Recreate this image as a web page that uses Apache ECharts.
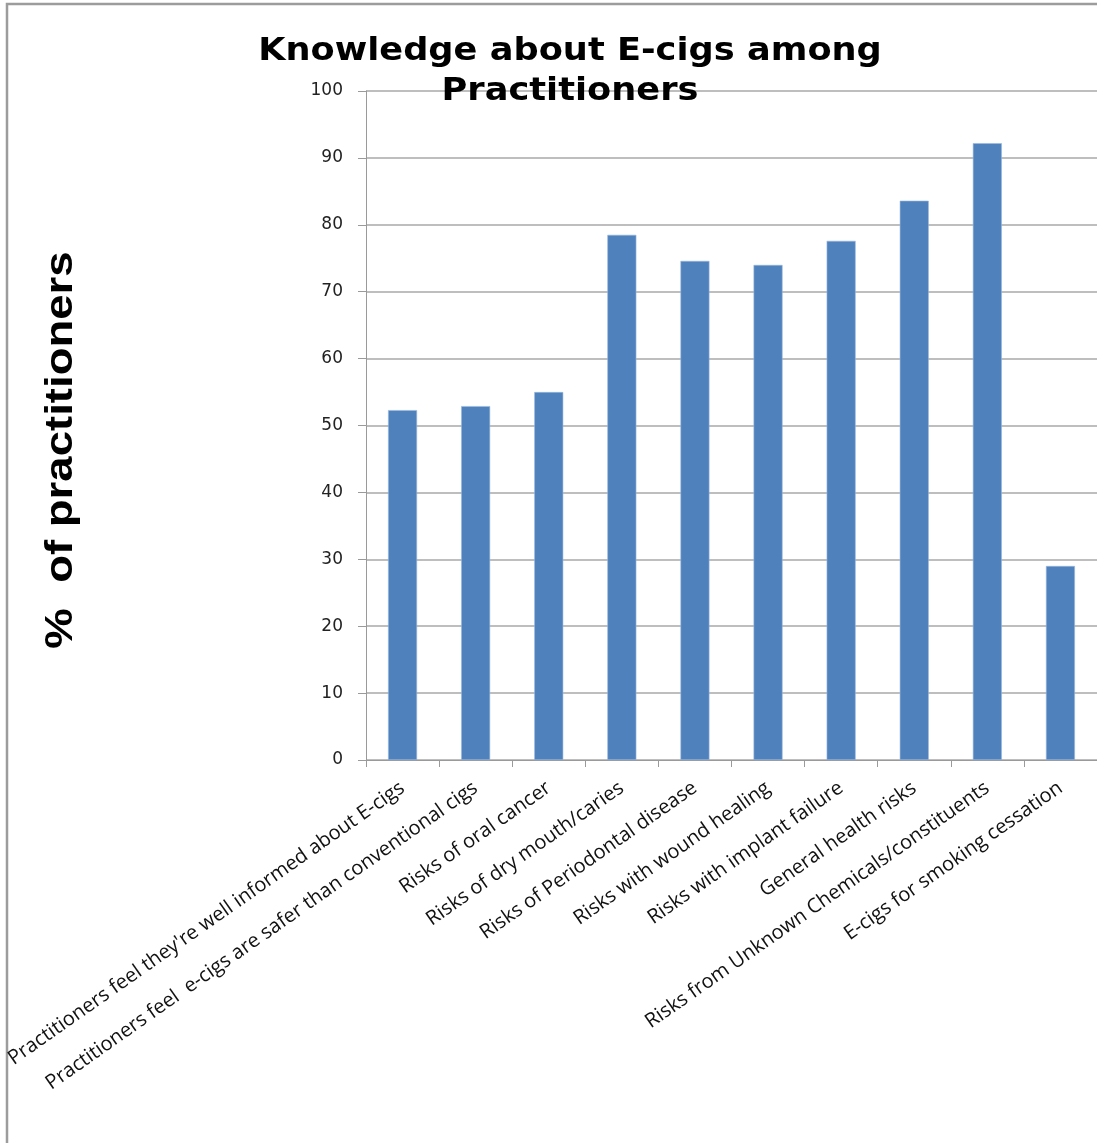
<!DOCTYPE html>
<html>
<head>
<meta charset="utf-8">
<script src="https://cdn.jsdelivr.net/npm/echarts@6/dist/echarts.min.js"></script>
<style>
  html, body { margin: 0; padding: 0; background: #fff; }
  #chart { width: 1097px; height: 1143px; }
</style>
</head>
<body>
<div id="chart"></div>
<script>
// Survey items and share of practitioners (%)
const categories = [
  "Practitioners feel they're well informed about E-cigs",
  "Practitioners feel  e-cigs are safer than conventional cigs",
  "Risks of oral cancer",
  "Risks of dry mouth/caries",
  "Risks of Periodontal disease",
  "Risks with wound healing",
  "Risks with implant failure",
  "General health risks",
  "Risks from Unknown Chemicals/constituents",
  "E-cigs for smoking cessation"
];
const percentValues = [52.3, 52.9, 55.0, 78.5, 74.6, 74.0, 77.6, 83.6, 92.2, 29.0];
const yTicks = { min: 0, max: 100, interval: 10 };
const titleLines = ["Knowledge about E-cigs among", "Practitioners"];
const yAxisTitle = "%  of practitioners";

const chart = echarts.init(document.getElementById('chart'), null, { renderer: 'canvas' });

chart.setOption({
  animation: false,
  backgroundColor: '#ffffff',
  grid: { left: 366, top: 91, width: 736, height: 669, containLabel: false },
  xAxis: {
    type: 'category',
    data: categories,
    axisLine: { lineStyle: { color: '#9a9a9a', width: 1 } },
    axisTick: { show: true, length: 7, lineStyle: { color: '#9a9a9a' } },
    axisLabel: {
      interval: 0,
      rotate: 35,
      margin: 26,
      fontFamily: 'Open Sans',
      fontSize: 20,
      color: '#111'
    }
  },
  yAxis: {
    type: 'value',
    min: yTicks.min,
    max: yTicks.max,
    interval: yTicks.interval,
    axisLine: { show: true, lineStyle: { color: '#9a9a9a', width: 1 } },
    axisTick: { show: true, length: 8, lineStyle: { color: '#9a9a9a' } },
    axisLabel: {
      margin: 23,
      fontFamily: 'DejaVu Sans',
      fontSize: 17,
      color: '#222'
    },
    splitLine: { show: true, lineStyle: { color: '#a8a8a8', width: 1.5 } }
  },
  series: [{
    type: 'bar',
    data: percentValues,
    barWidth: 29,
    itemStyle: { color: '#4F81BD', borderColor: '#9bb8dd', borderWidth: 0.6 }
  }],
  graphic: [
    {
      type: 'rect',
      z: -1,
      shape: { x: 7, y: 4, width: 1200, height: 1200 },
      style: { fill: 'none', stroke: '#9c9c9c', lineWidth: 2.5 },
      silent: true
    },
    {
      type: 'text',
      z: 10,
      x: 570, y: 36,
      scaleX: 1.1,
      style: {
        text: titleLines[0],
        fontFamily: 'DejaVu Sans', fontWeight: 'bold', fontSize: 32,
        fill: '#000', textAlign: 'center', textVerticalAlign: 'top'
      }
    },
    {
      type: 'text',
      z: 10,
      x: 570, y: 76,
      scaleX: 1.1,
      style: {
        text: titleLines[1],
        fontFamily: 'DejaVu Sans', fontWeight: 'bold', fontSize: 32,
        fill: '#000', textAlign: 'center', textVerticalAlign: 'top'
      }
    },
    {
      type: 'text',
      x: 62, y: 450,
      rotation: Math.PI / 2,
      scaleX: 1.38,
      scaleY: 1.15,
      style: {
        text: yAxisTitle,
        fontFamily: 'Liberation Sans', fontWeight: 'bold', fontSize: 33,
        fill: '#000', textAlign: 'center', textVerticalAlign: 'middle'
      }
    }
  ]
});
</script>
</body>
</html>
